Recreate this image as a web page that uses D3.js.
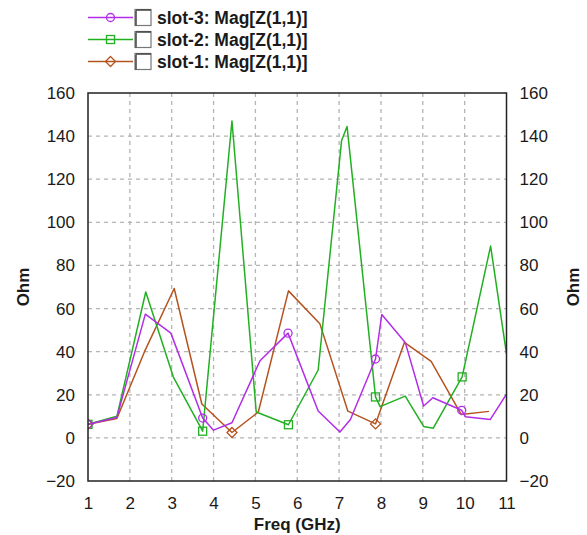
<!DOCTYPE html>
<html>
<head>
<meta charset="utf-8">
<script src="https://cdn.jsdelivr.net/npm/d3@7"></script>
<style>
  body { margin: 0; background: #fff; }
  svg { font-family: "Liberation Sans", Arial, sans-serif; }
</style>
</head>
<body>
<div id="chart"></div>
<script>
// slot-3 (purple)
const slot3Freq = [1, 1.69, 2.37, 2.98, 3.74, 4.0, 4.44, 5.11, 5.78, 6.5, 7.02, 7.27, 7.87, 8.02, 8.58, 9.02, 9.24, 9.93, 10.02, 10.61, 11];
const slot3Mag  = [6.3, 9.5, 57.4, 48.6, 9.2, 3.6, 7.0, 35.8, 48.6, 12.5, 2.7, 8.5, 36.6, 57.2, 44.3, 14.8, 18.6, 12.8, 9.8, 8.5, 20.3];
const slot3Marked = [0, 4, 8, 12, 17];

// slot-2 (green)
const slot2Freq = [1, 1.69, 2.38, 3.04, 3.74, 4.44, 5.02, 5.79, 6.5, 7.06, 7.19, 7.87, 7.98, 8.58, 9.02, 9.25, 9.94, 10.62, 11];
const slot2Mag  = [6.3, 10, 67.7, 28.2, 3.1, 147, 12, 6.1, 31.5, 138, 144.5, 19, 14.5, 19.4, 5.3, 4.5, 28.3, 89, 39];
const slot2Marked = [0, 4, 7, 11, 16];

// slot-1 (brown)
const slot1Freq = [1, 1.69, 2.35, 3.06, 3.72, 4.44, 5.07, 5.79, 6.54, 7.21, 7.87, 8.56, 9.2, 9.92, 10.58];
const slot1Mag  = [6.3, 9, 40, 69.3, 15.7, 2.5, 12, 68.2, 53, 12.4, 6.5, 44.3, 35.5, 10.8, 12.3];
const slot1Marked = [0, 5, 10];

const xTicks = [1, 2, 3, 4, 5, 6, 7, 8, 9, 10, 11];
const yTicks = [-20, 0, 20, 40, 60, 80, 100, 120, 140, 160];

const legendLabels = ["slot-3: Mag[Z(1,1)]", "slot-2: Mag[Z(1,1)]", "slot-1: Mag[Z(1,1)]"];

const series = [
  { freq: slot3Freq, mag: slot3Mag, marked: slot3Marked, color: "#b22ee6", marker: "circle" },
  { freq: slot2Freq, mag: slot2Mag, marked: slot2Marked, color: "#22b022", marker: "square" },
  { freq: slot1Freq, mag: slot1Mag, marked: slot1Marked, color: "#b5531f", marker: "diamond" },
];

const width = 587, height = 535;
const margin = { top: 93, right: 80.5, bottom: 54, left: 88 };
const innerW = width - margin.left - margin.right;
const innerH = height - margin.top - margin.bottom;

const svg = d3.select("#chart").append("svg")
  .attr("width", width).attr("height", height);

const x = d3.scaleLinear().domain([1, 11]).range([0, innerW]);
const y = d3.scaleLinear().domain([-20, 160]).range([innerH, 0]);

const g = svg.append("g").attr("transform", `translate(${margin.left},${margin.top})`);

// grid
g.append("g").selectAll("line").data(xTicks.slice(1, -1)).join("line")
  .attr("x1", d => x(d)).attr("x2", d => x(d))
  .attr("y1", 0).attr("y2", innerH)
  .attr("stroke", "#b4b4b4").attr("stroke-width", 1.3).attr("stroke-dasharray", "4,4");

g.append("g").selectAll("line").data(yTicks.slice(1, -1)).join("line")
  .attr("x1", 0).attr("x2", innerW)
  .attr("y1", d => y(d)).attr("y2", d => y(d))
  .attr("stroke", "#b4b4b4").attr("stroke-width", 1.3).attr("stroke-dasharray", "4,4");

// axes
const tickFont = (sel) => sel.selectAll("text")
  .style("font-size", "17px").attr("fill", "#1a1a1a");

g.append("g").attr("transform", `translate(0,${innerH})`)
  .call(d3.axisBottom(x).tickValues(xTicks).tickSize(0).tickPadding(16))
  .call(a => a.select(".domain").remove())
  .call(tickFont);

g.append("g")
  .call(d3.axisLeft(y).tickValues(yTicks).tickSize(4).tickPadding(9))
  .call(a => a.select(".domain").remove())
  .call(a => a.selectAll("line").attr("stroke", "#fff"))
  .call(tickFont);

g.append("g").attr("transform", `translate(${innerW},0)`)
  .call(d3.axisRight(y).tickValues(yTicks).tickSize(4).tickPadding(9))
  .call(a => a.select(".domain").remove())
  .call(a => a.selectAll("line").attr("stroke", "#fff"))
  .call(tickFont);

// clip
svg.append("defs").append("clipPath").attr("id", "plot-clip")
  .append("rect").attr("width", innerW).attr("height", innerH);

const plot = g.append("g").attr("clip-path", "url(#plot-clip)");

const line = d3.line().x(d => x(d[0])).y(d => y(d[1]));

function drawMarker(sel, type, color, cx, cy) {
  if (type === "circle") {
    sel.append("circle").attr("cx", cx).attr("cy", cy).attr("r", 4)
      .attr("fill", "none").attr("stroke", color).attr("stroke-width", 1.3);
  } else if (type === "square") {
    sel.append("rect").attr("x", cx - 4).attr("y", cy - 4).attr("width", 8).attr("height", 8)
      .attr("fill", "none").attr("stroke", color).attr("stroke-width", 1.3);
  } else {
    sel.append("path")
      .attr("d", `M${cx},${cy - 5}L${cx + 5},${cy}L${cx},${cy + 5}L${cx - 5},${cy}Z`)
      .attr("fill", "none").attr("stroke", color).attr("stroke-width", 1.3);
  }
}

// draw in reverse order so slot-3 ends on top
[...series].reverse().forEach(s => {
  const pts = s.freq.map((f, i) => [f, s.mag[i]]);
  plot.append("path").datum(pts)
    .attr("fill", "none").attr("stroke", s.color)
    .attr("stroke-width", 1.5).attr("stroke-linejoin", "round")
    .attr("d", line);
  s.marked.forEach(i => drawMarker(plot, s.marker, s.color, x(pts[i][0]), y(pts[i][1])));
});

// frame
g.append("rect").attr("width", innerW).attr("height", innerH)
  .attr("fill", "none").attr("stroke", "#222").attr("stroke-width", 1.5);

// axis titles
svg.append("text").attr("x", margin.left + innerW / 2).attr("y", 530)
  .attr("text-anchor", "middle").style("font-size", "17px").style("font-weight", "bold")
  .attr("fill", "#1a1a1a").text("Freq (GHz)");

svg.append("text").attr("transform", `translate(29,${margin.top + innerH / 2}) rotate(-90)`)
  .attr("text-anchor", "middle").style("font-size", "17px").style("font-weight", "bold")
  .attr("fill", "#1a1a1a").text("Ohm");

svg.append("text").attr("transform", `translate(579,${margin.top + innerH / 2}) rotate(-90)`)
  .attr("text-anchor", "middle").style("font-size", "17px").style("font-weight", "bold")
  .attr("fill", "#1a1a1a").text("Ohm");

// legend
const legend = svg.append("g");
series.forEach((s, i) => {
  const ly = 17.5 + i * 22;
  const row = legend.append("g");
  row.append("line").attr("x1", 88).attr("x2", 133).attr("y1", ly).attr("y2", ly)
    .attr("stroke", s.color).attr("stroke-width", 1.5);
  drawMarker(row, s.marker, s.color, 110.5, ly);
  row.append("rect").attr("x", 135).attr("y", ly - 8).attr("width", 16).attr("height", 16)
    .attr("fill", "#fff").attr("stroke", "#777").attr("stroke-width", 1.2);
  row.append("line").attr("x1", 136).attr("x2", 136).attr("y1", ly - 7).attr("y2", ly + 8)
    .attr("stroke", "#444").attr("stroke-width", 1.5);
  row.append("line").attr("x1", 136).attr("x2", 151).attr("y1", ly - 7.5).attr("y2", ly - 7.5)
    .attr("stroke", "#444").attr("stroke-width", 1.5);
  row.append("text").attr("x", 157).attr("y", ly + 6)
    .style("font-size", "17.5px").style("font-weight", "bold").attr("fill", "#1a1a1a")
    .text(legendLabels[i]);
});
</script>
</body>
</html>
